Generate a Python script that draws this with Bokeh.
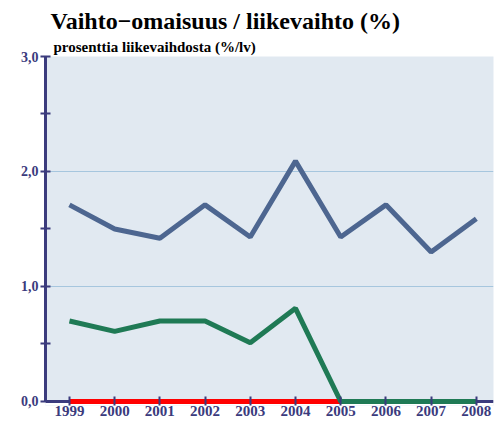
from bokeh.plotting import figure
from bokeh.models import Range1d, FixedTicker, Title, Span, BoxAnnotation
from bokeh.embed import file_html
from bokeh.resources import INLINE

years = [1999, 2000, 2001, 2002, 2003, 2004, 2005, 2006, 2007, 2008]
blue_vals = [1.71, 1.50, 1.42, 1.71, 1.43, 2.09, 1.43, 1.71, 1.30, 1.59]
green_vals = [0.70, 0.61, 0.70, 0.70, 0.51, 0.81, 0.0, 0.0, 0.0, 0.0]
red_vals = [0.0, 0.0, 0.0, 0.0, 0.0, 0.0, 0.0, 0.0, 0.0, 0.0]
y_ticks = [0, 1, 2, 3]
y_tick_labels = ["0,0", "1,0", "2,0", "3,0"]
y_minor = [0.5, 1.5, 2.5]
title_text = "Vaihto\u2212omaisuus / liikevaihto (%)"
subtitle_text = "prosenttia liikevaihdosta (%/lv)"

NAVY = "#3b3b7d"
FONT = "Liberation Serif"

p = figure(width=501, height=423, output_backend="svg", toolbar_location=None,
           x_range=Range1d(1998.47, 2008.38), y_range=Range1d(-0.035, 3.0),
           min_border_left=45, min_border_right=8, min_border_top=56, min_border_bottom=18)
p.title.visible = False
p.outline_line_color = None
p.background_fill_color = "#e1e9f1"
p.border_fill_color = "white"

sub = Title(text=subtitle_text, text_font=FONT, text_font_size="15px", text_font_style="bold",
            text_color="black", offset=8, standoff=4)
tit = Title(text=title_text, text_font=FONT, text_font_size="24px", text_font_style="bold",
            text_color="black", offset=5, standoff=1)
p.add_layout(sub, "above")
p.add_layout(tit, "above")

# white area below the zero line, and the zero axis line itself
p.add_layout(BoxAnnotation(top=0, fill_color="white", fill_alpha=1.0, line_color=None, level="underlay"))
p.add_layout(Span(location=0, dimension="width", line_color=NAVY, line_width=3, level="underlay"))

p.line(years, red_vals, line_color="#ff0000", line_width=5)
p.line(years, blue_vals, line_color="#4d6690", line_width=5)
p.line(years, green_vals, line_color="#1f7a55", line_width=5)

# grid
p.xgrid.visible = False
p.ygrid.ticker = FixedTicker(ticks=y_ticks)
p.ygrid.grid_line_color = "#a6c6de"
p.ygrid.grid_line_width = 1

# x axis
xa = p.xaxis[0]
xa.ticker = FixedTicker(ticks=years)
xa.axis_line_color = None
xa.major_tick_line_color = NAVY
xa.major_tick_line_width = 2
xa.major_tick_in = 9
xa.major_tick_out = 0
xa.minor_tick_line_color = None
xa.major_label_standoff = 0
xa.major_label_text_font = FONT
xa.major_label_text_font_size = "15px"
xa.major_label_text_font_style = "bold"
xa.major_label_text_color = NAVY

# y axis
ya = p.yaxis[0]
ya.ticker = FixedTicker(ticks=y_ticks, minor_ticks=y_minor)
ya.major_label_overrides = {t: l for t, l in zip(y_ticks, y_tick_labels)}
ya.bounds = (0, 3)
ya.axis_line_color = NAVY
ya.axis_line_width = 3
ya.major_tick_line_color = NAVY
ya.major_tick_line_width = 2
ya.major_tick_in = 5
ya.major_tick_out = 5
ya.minor_tick_line_color = NAVY
ya.minor_tick_line_width = 2
ya.minor_tick_in = 5
ya.minor_tick_out = 5
ya.major_label_standoff = 2
ya.major_label_text_font = FONT
ya.major_label_text_font_size = "14px"
ya.major_label_text_font_style = "bold"
ya.major_label_text_color = NAVY

open("out.html", "w").write(file_html(p, INLINE))
